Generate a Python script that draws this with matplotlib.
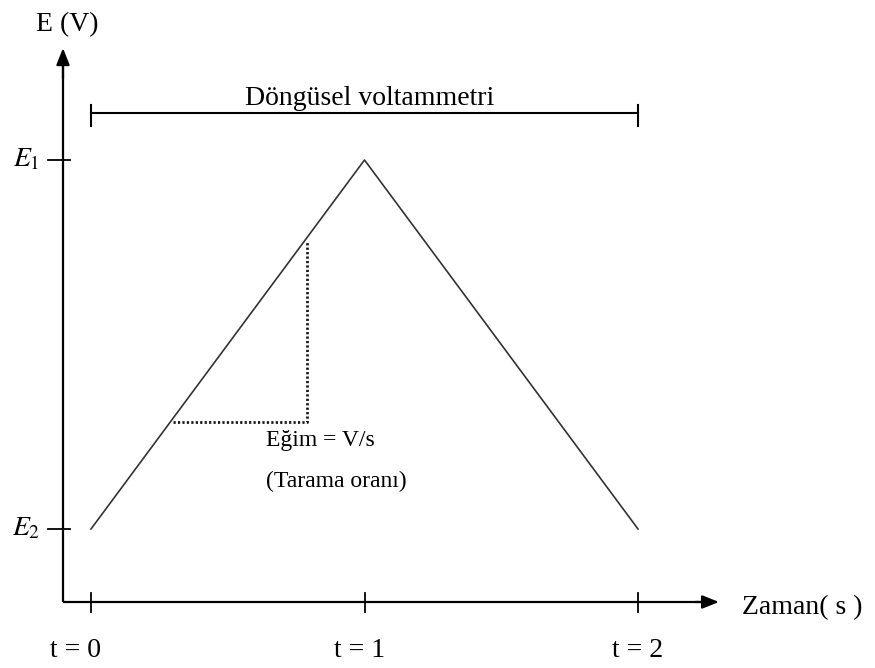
import matplotlib
matplotlib.use("Agg")
import matplotlib.pyplot as plt

plt.rcParams['font.family'] = ['Liberation Serif', 'DejaVu Serif']
plt.rcParams['mathtext.fontset'] = 'stix'

# triangle waveform of cyclic voltammetry (E2 = 0, E1 = 1)
t_points = [0, 1, 2]
E_points = [0, 1, 0]
t_labels = ["t = 0", "t = 1", "t = 2"]
E_ticks = [1, 0]
E_labels = ["$E_1$", "$E_2$"]

# dotted slope triangle
slope_t = [0.30, 0.79, 0.79]
slope_E = [0.29, 0.29, 0.78]

bracket_span = [0, 2]
bracket_E = 1.127

fig = plt.figure(figsize=(8.75, 6.68), dpi=100)
ax = fig.add_axes([0, 0, 1, 1])
ax.set_xlim(-0.3327, 2.8665)
ax.set_ylim(-0.3767, 1.4336)
ax.axis("off")

x0, y0 = -0.1024, -0.1978   # where the axes cross
k = dict(color="black", lw=1.6, solid_capstyle="butt")
head = "-|>,head_length=1.0,head_width=0.4"

# axes with arrows
ax.plot([x0, x0], [y0, 1.27], **k)
ax.plot([x0, 2.25], [y0, y0], **k)
ax.annotate("", xy=(x0, 1.303), xytext=(x0, 1.22),
            arrowprops=dict(arrowstyle=head, color="black", lw=1.6, shrinkA=0, shrinkB=0))
ax.annotate("", xy=(2.296, y0), xytext=(2.21, y0),
            arrowprops=dict(arrowstyle=head, color="black", lw=1.6, shrinkA=0, shrinkB=0))

# ticks
for t in t_points:
    ax.plot([t, t], [y0 - 0.027, y0 + 0.024], color="black", lw=1.3)
for e in E_ticks:
    ax.plot([x0 - 0.055, x0 + 0.025], [e, e], color="black", lw=1.3)

for t, lab, dx in zip(t_points, t_labels, [-0.055, -0.018, 0.0]):
    ax.text(t + dx, -0.328, lab, ha="center", va="center", fontsize=20)
for e, lab in zip(E_ticks, E_labels):
    ax.text(-0.238, e, lab, ha="center", va="center", fontsize=20)

ax.text(-0.086, 1.368, "E (V)", ha="center", va="center", fontsize=20)
ax.text(2.38, -0.212, "Zaman( s )", ha="left", va="center", fontsize=20)

# waveform
ax.plot(t_points, E_points, color="#333333", lw=1.2)
ax.plot(slope_t, slope_E, color="#1a1a1a", lw=2.0, linestyle=(0, (0.8, 0.8)))

ax.text(0.64, 0.24, "Eğim = V/s", ha="left", va="center", fontsize=17)
ax.text(0.64, 0.128, "(Tarama oranı)", ha="left", va="center", fontsize=17)

# bracket
ax.plot(bracket_span, [bracket_E, bracket_E], color="black", lw=1.5)
for t in bracket_span:
    ax.plot([t, t], [bracket_E - 0.035, bracket_E + 0.022], color="black", lw=1.5)
ax.text(1.02, 1.149, "Döngüsel voltammetri", ha="center", va="baseline", fontsize=20)

fig.savefig("out.png", dpi=100)
